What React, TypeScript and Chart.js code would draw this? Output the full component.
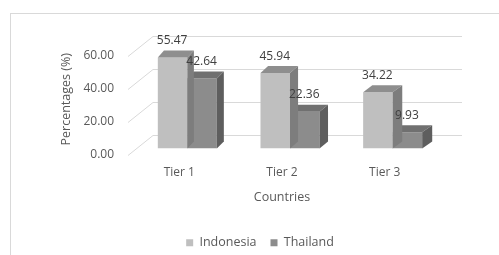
import React, { useEffect, useRef } from "react";
import { Chart, registerables } from "chart.js";

Chart.register(...registerables);

const categories = ["Tier 1", "Tier 2", "Tier 3"];
const indonesia = [55.47, 45.94, 34.22];
const thailand = [42.64, 22.36, 9.93];
const seriesNames = ["Indonesia", "Thailand"];
const yTicks = [0, 20, 40, 60];
const xTitle = "Countries";
const yTitle = "Percentages (%)";

const FONT = "'Open Sans', 'Noto Sans', sans-serif";
const TEXT = "#595959";
const faces = [
  { front: "#bfbfbf", top: "#8e8e8e", side: "#7d7d7d" },
  { front: "#8c8c8c", top: "#707070", side: "#5e5e5e" },
];
// depth geometry (pixels)
const BAR_DEPTH_Y = 7;
const WALL_DX = 17;
const WALL_DY = 14;
const FLOOR_DX = 8;
const FLOOR_DY = 6;

const depthDx = (x: number) => 6 + ((x - 150) / 270) * 4;

const threeD = {
  id: "threeD",
  beforeDraw(chart: any) {
    const ctx = chart.ctx;
    ctx.save();
    ctx.strokeStyle = "#d9d9d9";
    ctx.lineWidth = 1;
    ctx.strokeRect(10.5, 13.5, 700, 400);
    ctx.restore();
  },
  beforeDatasetsDraw(chart: any) {
    const ctx = chart.ctx;
    const ys = chart.scales.y;
    const area = chart.chartArea;
    ctx.save();
    ctx.strokeStyle = "#d9d9d9";
    ctx.lineWidth = 1;
    ys.ticks.forEach((t: any) => {
      const y = Math.round(ys.getPixelForValue(t.value));
      ctx.beginPath();
      ctx.moveTo(area.left - FLOOR_DX, y + FLOOR_DY + 0.5);
      ctx.lineTo(area.left + WALL_DX, y - WALL_DY + 0.5);
      ctx.lineTo(area.right + WALL_DX + 1, y - WALL_DY + 0.5);
      ctx.stroke();
    });
    ctx.restore();
  },
  afterDatasetDraw(chart: any, args: any) {
    const ctx = chart.ctx;
    const idx = args.index;
    const meta = chart.getDatasetMeta(idx);
    const f = faces[idx];
    ctx.save();
    meta.data.forEach((bar: any) => {
      const p = bar.getProps(["x", "y", "base", "width"], true);
      const l = p.x - p.width / 2;
      const r = p.x + p.width / 2;
      const dxl = depthDx(l);
      const dxr = depthDx(r);
      const dy = BAR_DEPTH_Y;
      ctx.fillStyle = f.top;
      ctx.beginPath();
      ctx.moveTo(l, p.y);
      ctx.lineTo(r, p.y);
      ctx.lineTo(r + dxr, p.y - dy);
      ctx.lineTo(l + dxl, p.y - dy);
      ctx.closePath();
      ctx.fill();
      ctx.fillStyle = f.side;
      ctx.beginPath();
      ctx.moveTo(r, p.y);
      ctx.lineTo(r + dxr, p.y - dy);
      ctx.lineTo(r + dxr, p.base - dy);
      ctx.lineTo(r, p.base);
      ctx.closePath();
      ctx.fill();
    });
    ctx.restore();
  },
  afterDatasetsDraw(chart: any) {
    const ctx = chart.ctx;
    ctx.save();
    ctx.font = `12px ${FONT}`;
    ctx.fillStyle = "#404040";
    ctx.textAlign = "center";
    ctx.textBaseline = "middle";
    chart.data.datasets.forEach((ds: any, i: number) => {
      const meta = chart.getDatasetMeta(i);
      meta.data.forEach((bar: any, j: number) => {
        const p = bar.getProps(["x", "y"], true);
        ctx.fillText(Number(ds.data[j]).toFixed(2), p.x - 0.5, p.y - 17);
      });
    });
    const xs = chart.scales.x;
    ctx.fillStyle = TEXT;
    ctx.font = `12.5px ${FONT}`;
    ctx.fillText(xTitle, (xs.left + xs.right) / 2 - FLOOR_DX, xs.top + 49);
    ctx.restore();
  },
};

export default function App() {
  const ref = useRef<HTMLCanvasElement>(null);
  useEffect(() => {
    const chart = new Chart(ref.current as HTMLCanvasElement, {
      type: "bar",
      data: {
        labels: categories,
        datasets: [
          {
            label: seriesNames[0],
            data: indonesia,
            backgroundColor: faces[0].front,
            barPercentage: 1,
            categoryPercentage: 0.575,
          },
          {
            label: seriesNames[1],
            data: thailand,
            backgroundColor: faces[1].front,
            barPercentage: 1,
            categoryPercentage: 0.575,
          },
        ],
      },
      options: {
        animation: false,
        responsive: false,
        devicePixelRatio: 1,
        layout: { padding: { top: 50, right: 0, left: 21, bottom: -4 } },
        plugins: {
          tooltip: { enabled: false },
          legend: {
            position: "bottom",
            labels: {
              boxWidth: 7,
              boxHeight: 7,
              padding: 14,
              color: TEXT,
              font: { family: FONT, size: 12.5 },
            },
          },
        },
        scales: {
          x: {
            grid: { display: false, drawTicks: false },
            border: { display: false },
            ticks: {
              color: TEXT,
              font: { family: FONT, size: 12 },
              padding: 17,
              labelOffset: -FLOOR_DX,
            },
            afterFit: (s: any) => {
              s.height = 74;
            },
          },
          y: {
            min: 0,
            max: 60,
            grid: { display: false, drawTicks: false },
            border: { display: false },
            afterBuildTicks: (s: any) => {
              s.ticks = yTicks.map((v) => ({ value: v }));
            },
            ticks: {
              color: TEXT,
              font: { family: FONT, size: 12 },
              padding: 22,
              labelOffset: FLOOR_DY,
              callback: (v: any) => Number(v).toFixed(2),
            },
            title: {
              display: true,
              text: yTitle,
              color: TEXT,
              font: { family: FONT, size: 12.5 },
              padding: { top: 38, bottom: 0 },
            },
            afterFit: (s: any) => {
              s.width = 115;
            },
          },
          yRight: {
            type: "linear",
            position: "right",
            display: true,
            grid: { display: false, drawTicks: false },
            border: { display: false },
            ticks: { display: false },
            afterFit: (s: any) => {
              s.width = 55;
            },
          },
        },
      },
      plugins: [threeD],
    });
    return () => chart.destroy();
  }, []);
  return (
    <div style={{ position: "absolute", left: 0, top: 0, width: 499, height: 255, background: "#fff" }}>
      <canvas ref={ref} width={499} height={255} />
    </div>
  );
}
